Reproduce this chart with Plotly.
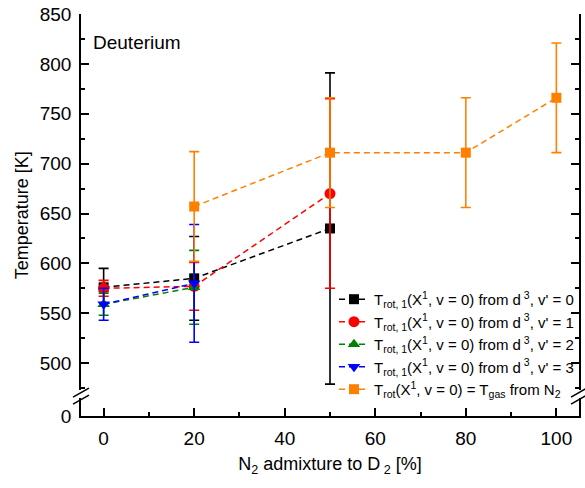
import plotly.graph_objects as go

# ---- data ----
x_v0 = [0, 20, 50]
y_v0 = [576, 585, 635]
e_v0 = [19, 42, 156]

x_v1 = [0, 20, 50]
y_v1 = [575, 577, 670]
e_v1 = [8, 24, 95]

x_v2 = [0, 20]
y_v2 = [559, 576]
e_v2 = [11, 37]

x_v3 = [0, 20]
y_v3 = [559, 580]
e_v3 = [16, 59]

x_gas = [20, 50, 80, 100]
y_gas = [657, 711, 711, 766]
e_gas = [55, 55, 55, 55]

x_ticks = [0, 20, 40, 60, 80, 100]
y_ticks = [500, 550, 600, 650, 700, 750, 800, 850]

names = [
    "T<sub>rot, 1</sub>(X<sup>1</sup>, v = 0) from d<sup> 3</sup>, v' = 0",
    "T<sub>rot, 1</sub>(X<sup>1</sup>, v = 0) from d<sup> 3</sup>, v' = 1",
    "T<sub>rot, 1</sub>(X<sup>1</sup>, v = 0) from d<sup> 3</sup>, v' = 2",
    "T<sub>rot, 1</sub>(X<sup>1</sup>, v = 0) from d<sup> 3</sup>, v' = 3",
    "T<sub>rot</sub>(X<sup>1</sup>, v = 0) = T<sub>gas</sub> from N<sub>2</sub>",
]

series = [
    (x_v0, y_v0, e_v0, "#000000", "square", 10),
    (x_v1, y_v1, e_v1, "#FF0000", "circle", 11),
    (x_v2, y_v2, e_v2, "#008000", "triangle-up", 11),
    (x_v3, y_v3, e_v3, "#0000FF", "triangle-down", 11),
    (x_gas, y_gas, e_gas, "#FF8000", "square", 10),
]

fig = go.Figure()
for (xs, ys, es, col, sym, ms), nm in zip(series, names):
    fig.add_trace(go.Scatter(
        x=xs, y=ys, name=nm, mode="lines+markers",
        line=dict(color=col, width=1.5, dash="6px,4px"),
        marker=dict(color=col, symbol=sym, size=ms),
        error_y=dict(type="data", array=es, visible=True, color=col,
                     thickness=1.6, width=5),
        xaxis="x", yaxis="y",
    ))

# empty trace for the lower (broken) segment
fig.add_trace(go.Scatter(x=[None], y=[None], xaxis="x", yaxis="y2",
                         showlegend=False, hoverinfo="skip"))

tickfont = dict(family="Liberation Sans, Arial, sans-serif", size=19, color="#000")
axcommon = dict(showline=True, linecolor="#000", linewidth=1.5, ticks="inside",
                tickcolor="#000", tickwidth=1.5, ticklen=8, showgrid=False,
                zeroline=False, tickfont=tickfont)

fig.update_layout(
    width=585, height=488,
    margin=dict(l=81, r=4, t=13, b=72),
    paper_bgcolor="white", plot_bgcolor="white",
    font=dict(family="Liberation Sans, Arial, sans-serif", color="#000"),
    xaxis=dict(range=[-5, 105], tickvals=x_ticks, anchor="y2",
               minor=dict(dtick=10, ticklen=4, ticks="inside", tickcolor="#000", tickwidth=1.5),
               title=dict(text="N<sub>2</sub> admixture to D<sub> 2</sub> [%]",
                          font=dict(size=18), standoff=10),
               ticklabelstandoff=4,
               **axcommon),
    xaxis2=dict(range=[-5, 105], tickvals=x_ticks, overlaying="x", side="top",
                anchor="y", showticklabels=False,
                minor=dict(dtick=10, ticklen=4, ticks="inside", tickcolor="#000", tickwidth=1.5),
                **axcommon),
    yaxis=dict(domain=[0.0645, 1], range=[473, 850], tickvals=y_ticks,
               mirror="ticks", anchor="x",
               minor=dict(tick0=0, dtick=25, ticklen=4, ticks="inside", tickcolor="#000", tickwidth=1.5),
               ticklabelstandoff=4,
               **axcommon),
    yaxis2=dict(domain=[0, 0.0447], range=[0, 18], tickvals=[0],
                mirror="ticks", anchor="x", ticklabelstandoff=4,
                **axcommon),
    legend=dict(x=1, xanchor="right", y=0.025, yanchor="bottom",
                bgcolor="rgba(0,0,0,0)", font=dict(size=15),
                traceorder="normal", itemwidth=30),
    showlegend=True,
)

# y-axis title and label annotation
fig.add_annotation(text="Temperature [K]", xref="paper", yref="paper",
                   x=-0.118, y=0.5, xanchor="center", yanchor="middle",
                   textangle=-90, showarrow=False, font=dict(size=18))
fig.add_annotation(text="Deuterium", xref="paper", yref="paper",
                   x=0.02, y=0.928, xanchor="left", yanchor="middle",
                   showarrow=False, font=dict(size=19))

# axis-break marks (paper coordinates)
def px2paper(px, py):
    return (px - 81) / 500.0, (416 - py) / 403.0

for (x0, y0, x1, y1) in [(73, 397, 89, 388), (73, 404, 89, 395),
                         (573, 397, 589, 388), (573, 404, 589, 395)]:
    a0, b0 = px2paper(x0, y0)
    a1, b1 = px2paper(x1, y1)
    fig.add_shape(type="line", xref="paper", yref="paper",
                  x0=a0, y0=b0, x1=a1, y1=b1,
                  line=dict(color="#000", width=1.5))

fig.write_html("out.html")
